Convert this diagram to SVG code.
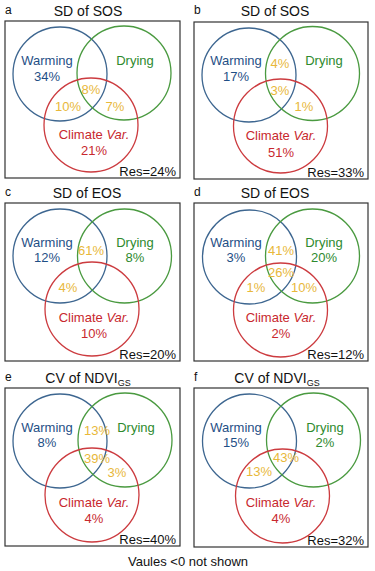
<svg xmlns="http://www.w3.org/2000/svg" width="375" height="571" viewBox="0 0 375 571">
<style>
text{font-family:"Liberation Sans",Arial,sans-serif;}
.box{fill:none;stroke:#333;stroke-width:1.2;}
.cb{fill:none;stroke:#3d6690;stroke-width:1.3;}
.cg{fill:none;stroke:#4a9a40;stroke-width:1.3;}
.cr{fill:none;stroke:#cc3b3f;stroke-width:1.3;}
.t{font-size:14px;fill:#111;text-anchor:middle;}
.lt{font-size:12px;fill:#111;}
.w{font-size:13px;fill:#1f4f86;text-anchor:middle;}
.d{font-size:13px;fill:#2e8a2e;text-anchor:middle;}
.c{font-size:13px;fill:#c8282e;text-anchor:middle;}
.y{font-size:13px;fill:#e8b83a;text-anchor:middle;}
.r{font-size:13px;fill:#111;text-anchor:end;}
</style>
<rect width="375" height="571" fill="#fff"/>
<g id="panel-a">
<text class="lt" x="5" y="14">a</text>
<text class="t" x="88" y="16">SD of SOS</text>
<rect class="box" x="5" y="21" width="175" height="157"/>
<circle class="cb" cx="60" cy="74" r="47"/>
<circle class="cg" cx="124" cy="73" r="47"/>
<circle class="cr" cx="91" cy="125" r="47"/>
<text class="w" x="47" y="65">Warming</text>
<text class="w" x="47" y="81">34%</text>
<text class="d" x="135" y="65">Drying</text>
<text class="y" x="91" y="94">8%</text>
<text class="y" x="68" y="111">10%</text>
<text class="y" x="115" y="111">7%</text>
<text class="c" x="94" y="139">Climate <tspan font-style="italic">Var.</tspan></text>
<text class="c" x="94" y="155">21%</text>
<text class="r" x="176" y="176">Res=24%</text>
</g>
<g id="panel-b">
<text class="lt" x="194" y="14">b</text>
<text class="t" x="275" y="16">SD of SOS</text>
<rect class="box" x="194" y="22" width="174" height="157"/>
<circle class="cb" cx="249" cy="75" r="47"/>
<circle class="cg" cx="312.5" cy="73.5" r="47"/>
<circle class="cr" cx="280.5" cy="126" r="47"/>
<text class="w" x="236" y="65">Warming</text>
<text class="w" x="236" y="81">17%</text>
<text class="d" x="324" y="65">Drying</text>
<text class="y" x="280" y="68">4%</text>
<text class="y" x="280" y="95">3%</text>
<text class="y" x="304" y="111">1%</text>
<text class="c" x="281" y="140">Climate <tspan font-style="italic">Var.</tspan></text>
<text class="c" x="281" y="157">51%</text>
<text class="r" x="364" y="177">Res=33%</text>
</g>
<g id="panel-c">
<text class="lt" x="5" y="196">c</text>
<text class="t" x="87" y="198">SD of EOS</text>
<rect class="box" x="5" y="203" width="175" height="158"/>
<circle class="cb" cx="60" cy="256" r="47"/>
<circle class="cg" cx="124.5" cy="256" r="47"/>
<circle class="cr" cx="92" cy="309" r="47"/>
<text class="w" x="47" y="247">Warming</text>
<text class="w" x="47" y="262">12%</text>
<text class="d" x="135" y="247">Drying</text>
<text class="d" x="135" y="262">8%</text>
<text class="y" x="91" y="255">61%</text>
<text class="y" x="68" y="292">4%</text>
<text class="c" x="94" y="322">Climate <tspan font-style="italic">Var.</tspan></text>
<text class="c" x="94" y="338">10%</text>
<text class="r" x="176" y="359">Res=20%</text>
</g>
<g id="panel-d">
<text class="lt" x="194" y="196">d</text>
<text class="t" x="275" y="198">SD of EOS</text>
<rect class="box" x="194" y="203" width="174" height="158"/>
<circle class="cb" cx="249.5" cy="257" r="47"/>
<circle class="cg" cx="312.5" cy="256" r="47"/>
<circle class="cr" cx="280.5" cy="310" r="47"/>
<text class="w" x="236" y="247">Warming</text>
<text class="w" x="236" y="262">3%</text>
<text class="d" x="324" y="247">Drying</text>
<text class="d" x="324" y="262">20%</text>
<text class="y" x="281" y="255">41%</text>
<text class="y" x="281" y="277">26%</text>
<text class="y" x="256" y="292">1%</text>
<text class="y" x="304" y="292">10%</text>
<text class="c" x="281" y="322">Climate <tspan font-style="italic">Var.</tspan></text>
<text class="c" x="281" y="338">2%</text>
<text class="r" x="364" y="359">Res=12%</text>
</g>
<g id="panel-e">
<text class="lt" x="5" y="381">e</text>
<text class="t" x="88" y="383">CV of NDVI<tspan font-size="9" dy="3">GS</tspan></text>
<rect class="box" x="5" y="388" width="175" height="158"/>
<circle class="cb" cx="60" cy="441" r="47"/>
<circle class="cg" cx="125" cy="440" r="47"/>
<circle class="cr" cx="92" cy="495" r="47"/>
<text class="w" x="47" y="432">Warming</text>
<text class="w" x="47" y="447">8%</text>
<text class="d" x="136" y="432">Drying</text>
<text class="y" x="97" y="435">13%</text>
<text class="y" x="97" y="463">39%</text>
<text class="y" x="117" y="477">3%</text>
<text class="c" x="94" y="507">Climate <tspan font-style="italic">Var.</tspan></text>
<text class="c" x="94" y="523">4%</text>
<text class="r" x="176" y="544">Res=40%</text>
</g>
<g id="panel-f">
<text class="lt" x="194" y="381">f</text>
<text class="t" x="277" y="383">CV of NDVI<tspan font-size="9" dy="3">GS</tspan></text>
<rect class="box" x="194" y="388" width="174" height="159"/>
<circle class="cb" cx="249.5" cy="441" r="47"/>
<circle class="cg" cx="313.5" cy="440" r="47"/>
<circle class="cr" cx="282.5" cy="496" r="47"/>
<text class="w" x="236" y="432">Warming</text>
<text class="w" x="236" y="447">15%</text>
<text class="d" x="325" y="432">Drying</text>
<text class="d" x="325" y="447">2%</text>
<text class="y" x="286" y="462">43%</text>
<text class="y" x="259" y="476">13%</text>
<text class="c" x="281" y="507">Climate <tspan font-style="italic">Var.</tspan></text>
<text class="c" x="281" y="523">4%</text>
<text class="r" x="364" y="545">Res=32%</text>
</g>
<text x="188" y="566" font-size="13" fill="#111" text-anchor="middle" style="font-family:'Liberation Sans',Arial,sans-serif">Vaules &lt;0 not shown</text>
</svg>
